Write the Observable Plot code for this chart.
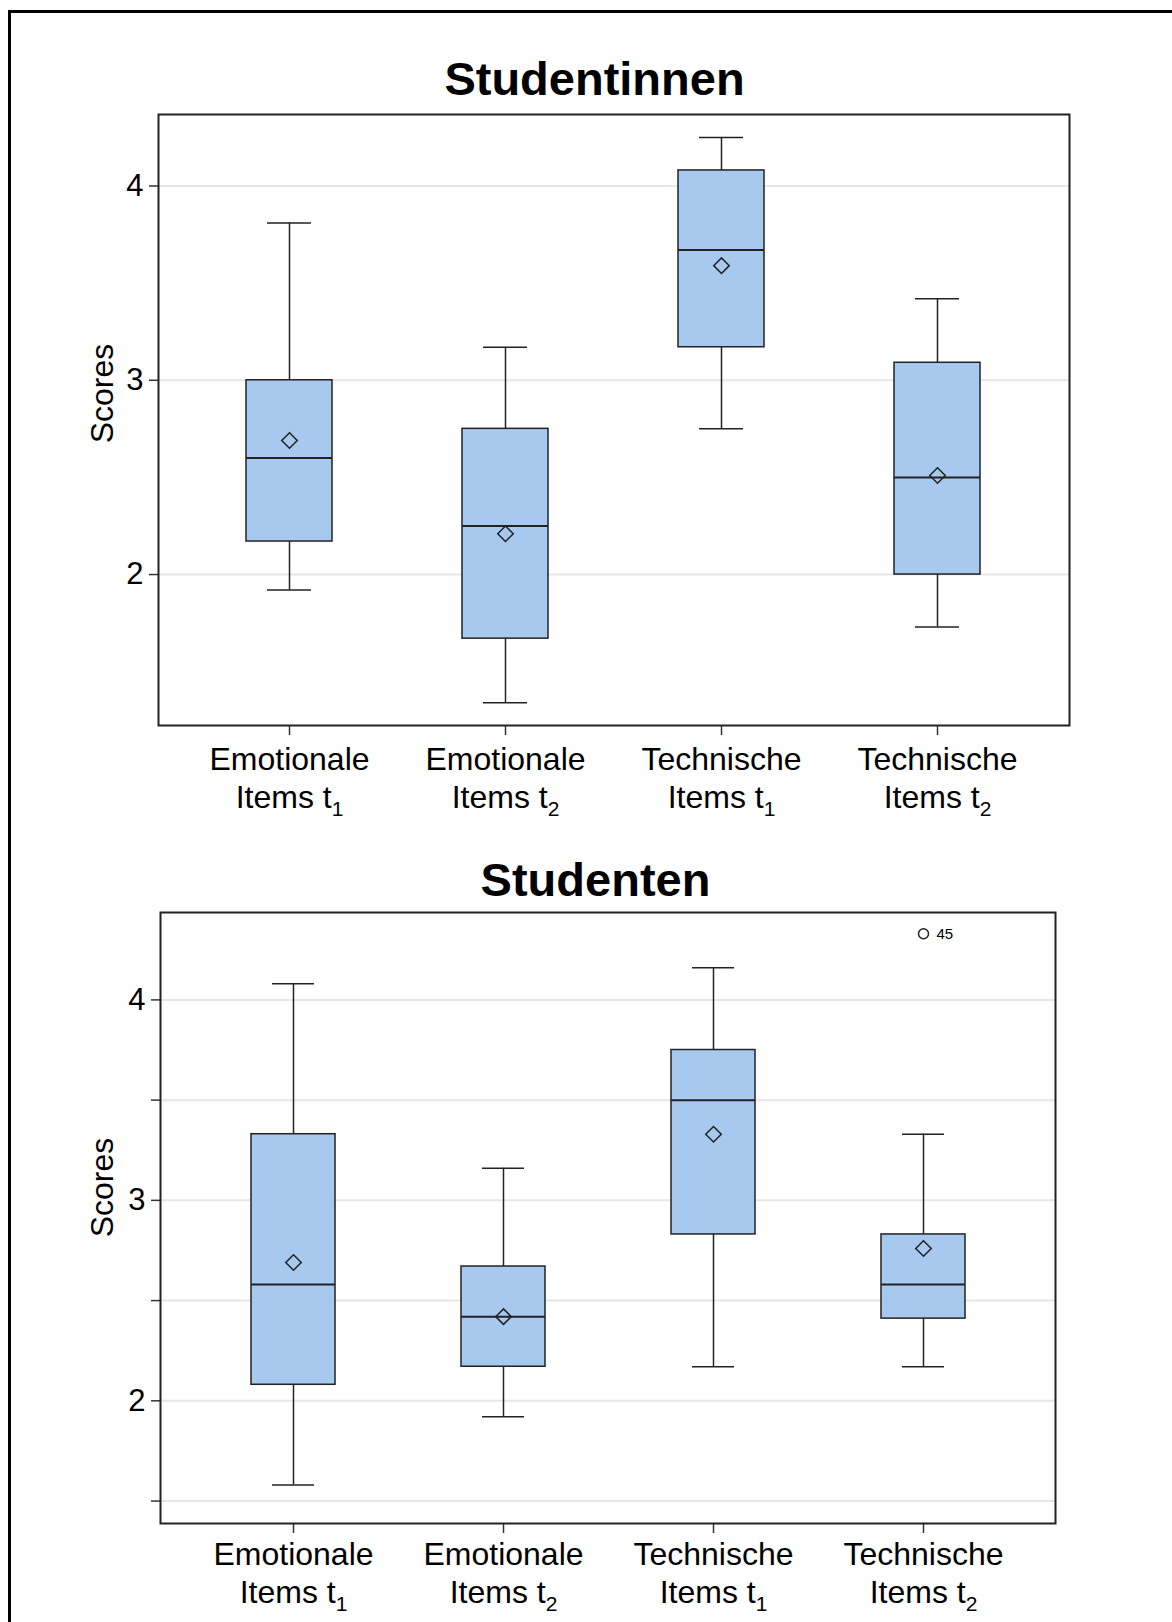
<!DOCTYPE html>
<html>
<head>
<meta charset="utf-8">
<script src="https://cdn.jsdelivr.net/npm/d3@7"></script>
<script src="https://cdn.jsdelivr.net/npm/@observablehq/plot@0.6"></script>
<style>
  html, body { margin: 0; padding: 0; background: #fff; }
  body { width: 1172px; height: 1622px; position: relative; overflow: hidden; font-family: "Liberation Sans", Arial, sans-serif; }
  #border { position: absolute; left: 8px; top: 10px; width: 1200px; height: 1700px; border-left: 3px solid #000; border-top: 3px solid #000; pointer-events: none; }
  #p1, #p2 { position: absolute; left: 0; }
  #p1 { top: 0; }
  #p2 { top: 840px; }
  svg { display: block; overflow: visible; }
</style>
</head>
<body>
<div id="p1"></div>
<div id="p2"></div>
<div id="border"></div>
<script>
// ---- data ----
const categories = ["Emotionale Items t1", "Emotionale Items t2", "Technische Items t1", "Technische Items t2"];
const categoryLabels = ["Emotionale\nItems t_1", "Emotionale\nItems t_2", "Technische\nItems t_1", "Technische\nItems t_2"];

// Studentinnen
const fLow    = [1.92, 1.34, 2.75, 1.73];
const fQ1     = [2.17, 1.67, 3.17, 2.00];
const fMedian = [2.60, 2.25, 3.67, 2.50];
const fQ3     = [3.00, 2.75, 4.08, 3.09];
const fHigh   = [3.81, 3.17, 4.25, 3.42];
const fMean   = [2.69, 2.21, 3.59, 2.51];

// Studenten
const mLow    = [1.58, 1.92, 2.17, 2.17];
const mQ1     = [2.08, 2.17, 2.83, 2.41];
const mMedian = [2.58, 2.42, 3.50, 2.58];
const mQ3     = [3.33, 2.67, 3.75, 2.83];
const mHigh   = [4.08, 3.16, 4.16, 3.33];
const mMean   = [2.69, 2.42, 3.33, 2.76];
const mOutlierCategory = ["Technische Items t2"];
const mOutlierValue    = [4.33];
const mOutlierLabel    = ["45"];

const titles = ["Studentinnen", "Studenten"];
const yTicks1 = [2, 3, 4];
const yTicks2 = [1.5, 2, 2.5, 3, 3.5, 4];

// ---- helpers ----
const FONT = "Liberation Sans, Arial, Helvetica, sans-serif";
const BOX_FILL = "#a8c9ef";
const INK = "#222";

function table(lo, q1, med, q3, hi, mean) {
  return categories.map((c, i) => ({cat: c, lo: lo[i], q1: q1[i], med: med[i], q3: q3[i], hi: hi[i], mean: mean[i]}));
}

function subscripts(svg) {
  const ns = "http://www.w3.org/2000/svg";
  svg.querySelectorAll("text").forEach(t => {
    const spans = t.querySelectorAll("tspan");
    const targets = spans.length ? Array.from(spans) : [t];
    targets.forEach(ts => {
      if (ts.querySelector && ts.querySelector("tspan")) return;
      const m = ts.textContent.match(/^(.*)_(\d)$/);
      if (m) {
        ts.textContent = m[1];
        const sub = document.createElementNS(ns, "tspan");
        sub.setAttribute("font-size", "21");
        sub.setAttribute("dy", "8");
        sub.textContent = m[2];
        ts.appendChild(sub);
      }
    });
  });
}

function panel(opts) {
  const data = opts.data;
  const marks = [
    Plot.ruleY(opts.grid, {stroke: "#e6e6e6", strokeWidth: 2}),
    Plot.axisY({ticks: opts.ticks, tickFormat: d => Number.isInteger(d) ? String(d) : "", fontSize: 31, tickSize: 9, tickPadding: 6, stroke: "#333", strokeWidth: 1.5, label: null}),
    Plot.axisX({tickSize: 10, tickFormat: () => "", stroke: "#333", strokeWidth: 1.5, label: null}),
    Plot.text(categories, {x: d => d, text: d => categoryLabels[categories.indexOf(d)], frameAnchor: "bottom", lineAnchor: "top", dy: opts.labelDy, fontSize: 32, lineHeight: 1.18, fill: "#000"}),
    Plot.ruleX(data, {x: "cat", y1: "lo", y2: "q1", stroke: INK, strokeWidth: 1.5}),
    Plot.ruleX(data, {x: "cat", y1: "q3", y2: "hi", stroke: INK, strokeWidth: 1.5}),
    Plot.tickY(data, {x: "cat", y: "lo", stroke: INK, strokeWidth: 1.5, insetLeft: 21, insetRight: 21}),
    Plot.tickY(data, {x: "cat", y: "hi", stroke: INK, strokeWidth: 1.5, insetLeft: 21, insetRight: 21}),
    Plot.barY(data, {x: "cat", y1: "q1", y2: "q3", fill: BOX_FILL, stroke: INK, strokeWidth: 1.5}),
    Plot.tickY(data, {x: "cat", y: "med", stroke: INK, strokeWidth: 2}),
    Plot.dot(data, {x: "cat", y: "mean", symbol: "diamond2", r: 7, stroke: INK, fill: "none", strokeWidth: 1.5}),
    Plot.frame({stroke: INK, strokeWidth: 2}),
    Plot.text([opts.title], {text: d => d, frameAnchor: "top", lineAnchor: "bottom", dy: opts.titleDy, dx: opts.titleDx, fontSize: 47, fontWeight: "bold", fill: "#000"}),
    Plot.text(["Scores"], {text: d => d, frameAnchor: "left", rotate: -90, lineAnchor: "middle", textAnchor: "middle", dx: opts.scoresDx, dy: opts.scoresDy, fontSize: 32, fill: "#000"})
  ];
  if (opts.outliers) {
    marks.push(Plot.dot(opts.outliers, {x: "cat", y: "v", r: 5, stroke: INK, fill: "none", strokeWidth: 1.5}));
    marks.push(Plot.text(opts.outliers, {x: "cat", y: "v", text: "label", dx: 13, textAnchor: "start", fontSize: 15, fill: "#000"}));
  }
  const svg = Plot.plot({
    width: 1172,
    height: opts.height,
    marginLeft: opts.ml, marginRight: opts.mr, marginTop: opts.mt, marginBottom: opts.mb,
    style: {fontFamily: FONT, background: "white", color: "#000", overflow: "visible"},
    x: {type: "band", domain: categories, paddingInner: 0.6, paddingOuter: opts.po, align: 0.5, axis: null},
    y: {domain: opts.domain, axis: null},
    marks
  });
  subscripts(svg);
  return svg;
}

document.getElementById("p1").appendChild(panel({
  data: table(fLow, fQ1, fMedian, fQ3, fHigh, fMean),
  title: titles[0],
  height: 840, ml: 158, mr: 103, mt: 114, mb: 115,
  po: 0.404, domain: [1.223, 4.368],
  grid: yTicks1, ticks: yTicks1,
  labelDy: 18, titleDy: -20, titleDx: -19.5,
  scoresDx: -55.5, scoresDy: -26.5
}));

document.getElementById("p2").appendChild(panel({
  data: table(mLow, mQ1, mMedian, mQ3, mHigh, mMean),
  title: titles[1],
  height: 782, ml: 160, mr: 117, mt: 72, mb: 99,
  po: 0.421, domain: [1.388, 4.436],
  grid: yTicks2, ticks: yTicks2,
  labelDy: 15, titleDy: -17, titleDx: -12.5,
  scoresDx: -57.5, scoresDy: -30.5,
  outliers: mOutlierCategory.map((c, i) => ({cat: c, v: mOutlierValue[i], label: mOutlierLabel[i]}))
}));
</script>
</body>
</html>
